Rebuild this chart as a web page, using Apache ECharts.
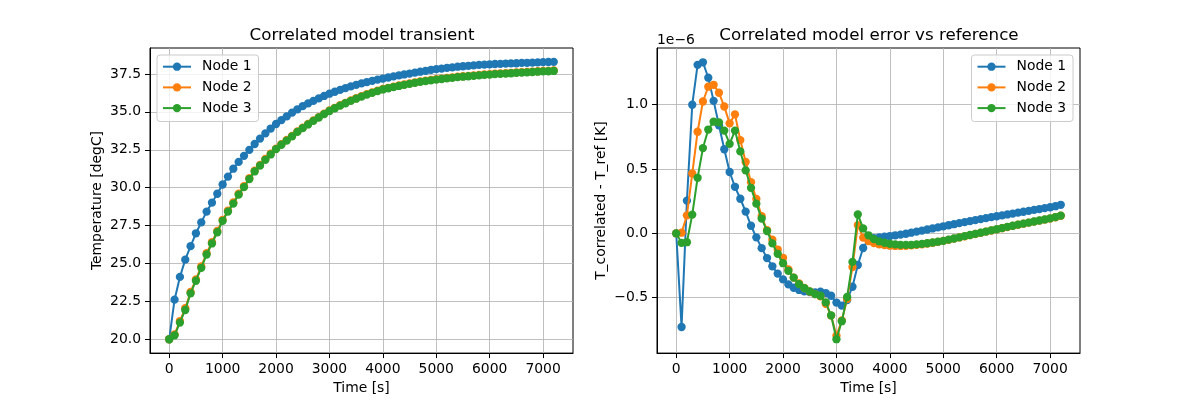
<!DOCTYPE html>
<html><head><meta charset="utf-8">
<script src="https://cdn.jsdelivr.net/npm/echarts@6/dist/echarts.min.js"></script>
<style>html,body{margin:0;padding:0;background:#fff}#chart{width:1200px;height:400px}</style>
</head><body><div id="chart"></div>
<script>
// sample times [s]
const times = [0,100,200,300,400,500,600,700,800,900,1000,1100,1200,1300,1400,1500,1600,1700,1800,1900,2000,2100,2200,2300,2400,2500,2600,2700,2800,2900,3000,3100,3200,3300,3400,3500,3600,3700,3800,3900,4000,4100,4200,4300,4400,4500,4600,4700,4800,4900,5000,5100,5200,5300,5400,5500,5600,5700,5800,5900,6000,6100,6200,6300,6400,6500,6600,6700,6800,6900,7000,7100,7200];
const seriesNames = ['Node 1','Node 2','Node 3'];
// temperatures [degC]
const tempNode1 = [20.00,22.61,24.11,25.25,26.14,26.99,27.71,28.42,29.01,29.60,30.21,30.73,31.25,31.70,32.10,32.49,32.88,33.24,33.58,33.90,34.20,34.46,34.70,34.95,35.17,35.38,35.56,35.73,35.89,36.05,36.20,36.33,36.45,36.57,36.68,36.78,36.88,36.97,37.05,37.13,37.20,37.27,37.34,37.41,37.47,37.53,37.59,37.65,37.71,37.77,37.82,37.86,37.90,37.94,37.98,38.01,38.04,38.07,38.10,38.12,38.14,38.16,38.17,38.19,38.20,38.21,38.23,38.24,38.25,38.27,38.28,38.29,38.30];
const tempNode2 = [20.00,20.32,21.20,22.05,23.12,23.95,24.80,25.68,26.40,27.14,27.88,28.49,29.02,29.60,30.10,30.62,31.12,31.50,31.89,32.24,32.58,32.87,33.15,33.42,33.71,33.96,34.20,34.44,34.66,34.88,35.09,35.27,35.44,35.60,35.76,35.90,36.04,36.17,36.29,36.40,36.51,36.59,36.67,36.74,36.81,36.88,36.95,37.01,37.06,37.11,37.16,37.20,37.24,37.28,37.32,37.35,37.38,37.41,37.44,37.47,37.49,37.52,37.54,37.56,37.58,37.60,37.62,37.64,37.66,37.68,37.70,37.71,37.73];
const tempNode3 = [20.00,20.26,21.10,21.93,23.03,23.86,24.71,25.59,26.32,27.06,27.81,28.42,28.95,29.54,30.04,30.57,31.07,31.45,31.84,32.19,32.54,32.83,33.11,33.38,33.68,33.93,34.17,34.41,34.63,34.85,35.06,35.24,35.41,35.57,35.73,35.87,36.01,36.14,36.26,36.37,36.48,36.56,36.64,36.71,36.78,36.85,36.92,36.98,37.03,37.08,37.13,37.17,37.21,37.25,37.29,37.32,37.35,37.38,37.41,37.44,37.46,37.49,37.51,37.53,37.55,37.57,37.59,37.61,37.63,37.65,37.67,37.68,37.70];
// error vs reference, in units of 1e-6 K
const errNode1 = [0.000,-0.728,0.254,1.000,1.310,1.330,1.210,1.030,0.840,0.654,0.477,0.362,0.269,0.169,0.059,-0.031,-0.115,-0.192,-0.256,-0.313,-0.358,-0.397,-0.423,-0.440,-0.450,-0.457,-0.460,-0.454,-0.464,-0.485,-0.538,-0.562,-0.518,-0.415,-0.246,-0.114,-0.045,-0.037,-0.031,-0.026,-0.021,-0.015,-0.010,-0.003,0.005,0.013,0.021,0.030,0.038,0.046,0.055,0.063,0.071,0.079,0.087,0.095,0.103,0.111,0.118,0.126,0.133,0.140,0.147,0.154,0.161,0.168,0.175,0.182,0.189,0.196,0.203,0.211,0.222];
const errNode2 = [0.000,0.005,0.140,0.465,0.790,1.025,1.140,1.155,1.093,0.986,0.855,0.925,0.725,0.555,0.398,0.268,0.134,0.024,-0.049,-0.126,-0.190,-0.280,-0.344,-0.390,-0.425,-0.452,-0.473,-0.490,-0.548,-0.640,-0.795,-0.677,-0.510,-0.262,0.064,-0.033,-0.060,-0.075,-0.085,-0.092,-0.096,-0.098,-0.098,-0.097,-0.094,-0.090,-0.085,-0.079,-0.073,-0.066,-0.059,-0.050,-0.041,-0.032,-0.023,-0.014,-0.005,0.004,0.013,0.022,0.031,0.040,0.049,0.058,0.067,0.075,0.083,0.091,0.099,0.107,0.115,0.125,0.137];
const errNode3 = [0.000,-0.074,-0.069,0.146,0.432,0.663,0.807,0.868,0.863,0.799,0.696,0.799,0.637,0.490,0.354,0.231,0.115,0.018,-0.078,-0.159,-0.232,-0.292,-0.344,-0.395,-0.426,-0.451,-0.472,-0.485,-0.536,-0.637,-0.823,-0.683,-0.495,-0.222,0.148,0.038,-0.015,-0.045,-0.062,-0.073,-0.081,-0.086,-0.089,-0.090,-0.089,-0.086,-0.082,-0.077,-0.071,-0.065,-0.058,-0.049,-0.040,-0.031,-0.022,-0.013,-0.004,0.005,0.014,0.023,0.032,0.041,0.050,0.059,0.068,0.076,0.084,0.092,0.100,0.108,0.116,0.126,0.138];
// tick values
const xTicks = [0,1000,2000,3000,4000,5000,6000,7000];
const tempTicks = [20.0,22.5,25.0,27.5,30.0,32.5,35.0,37.5];
const errTicks = [-0.5,0.0,0.5,1.0];

const FONT = 'DejaVu Sans';
const colors = ['#1f77b4','#ff7f0e','#2ca02c'];
const chart = echarts.init(document.getElementById('chart'), null, {renderer:'canvas'});
function pairs(vals){ return times.map((t,i)=>[t, vals[i]]); }
const txt = {fontFamily:FONT, fontSize:13.9, color:'#000'};

function xAxisCfg(gi){
  return {type:'value', gridIndex:gi, min:-360, max:7560,
    name:'Time [s]', nameLocation:'middle', nameGap:26, nameTextStyle:txt,
    axisLine:{show:true, onZero:false, lineStyle:{color:'#000', width:1}},
    axisTick:{show:true, length:5, lineStyle:{color:'#000', width:1}, customValues:xTicks},
    axisLabel:Object.assign({customValues:xTicks, margin:9, formatter:v=>String(v)}, txt),
    splitLine:{show:true, lineStyle:{color:'#b0b0b0', width:0.8}}};
}
function yAxisCfg(gi, min, max, ticks, name, gap, fmt){
  return {type:'value', gridIndex:gi, min:min, max:max,
    name:name, nameLocation:'middle', nameRotate:90, nameGap:gap, nameTextStyle:txt,
    axisLine:{show:true, onZero:false, lineStyle:{color:'#000', width:1}},
    axisTick:{show:true, length:5, lineStyle:{color:'#000', width:1}, customValues:ticks},
    axisLabel:Object.assign({customValues:ticks, margin:9, formatter:fmt, padding:[4,0,0,0]}, txt),
    splitLine:{show:true, lineStyle:{color:'#b0b0b0', width:0.8}}};
}
function legendCfg(pos){
  return Object.assign({orient:'vertical', data:seriesNames, selectedMode:false,
    itemWidth:28, itemHeight:10.4, itemGap:6.7, padding:[4.7,7,6.4,5],
    backgroundColor:'rgba(255,255,255,0.8)', borderColor:'#cccccc', borderWidth:1, borderRadius:3,
    textStyle:Object.assign({lineHeight:14, padding:[0,0,0,6]}, txt)}, pos);
}
function lineSeries(name, idx, gi, vals){
  return {type:'line', name:name, xAxisIndex:gi, yAxisIndex:gi, data:pairs(vals),
    symbol:'circle', symbolSize:8.3, showAllSymbol:true, color:colors[idx],
    lineStyle:{width:2, color:colors[idx]}, itemStyle:{color:colors[idx]},
    emphasis:{disabled:true}, animation:false, z:2+idx};
}
const errFmt = v => (v < 0 ? '\u2212' : '') + Math.abs(v).toFixed(1);

chart.setOption({
  animation:false,
  backgroundColor:'#fff',
  title:[
    {text:'Correlated model transient', left:357, top:22, textAlign:'center',
     textStyle:{fontFamily:FONT, fontSize:16.7, fontWeight:'normal', color:'#000'}},
    {text:'Correlated model error vs reference', left:864, top:22, textAlign:'center',
     textStyle:{fontFamily:FONT, fontSize:16.7, fontWeight:'normal', color:'#000'}}
  ],
  graphic:[{type:'text', left:657, top:33, style:{text:'1e\u22126', font:'13.9px "DejaVu Sans"', fill:'#000'}}],
  legend:[legendCfg({left:157, top:55}), legendCfg({right:127, top:55})],
  grid:[
    {left:150, top:48, width:423, height:308, show:true, borderColor:'#000', borderWidth:1, backgroundColor:'transparent'},
    {left:657, top:48, width:423, height:308, show:true, borderColor:'#000', borderWidth:1, backgroundColor:'transparent'}
  ],
  xAxis:[xAxisCfg(0), xAxisCfg(1)],
  yAxis:[
    yAxisCfg(0, 19.085, 39.215, tempTicks, 'Temperature [degC]', 46, v=>v.toFixed(1)),
    yAxisCfg(1, -0.931, 1.441, errTicks, 'T_correlated - T_ref [K]', 49, errFmt)
  ],
  series:[
    lineSeries('Node 1',0,0,tempNode1), lineSeries('Node 2',1,0,tempNode2), lineSeries('Node 3',2,0,tempNode3),
    lineSeries('Node 1',0,1,errNode1), lineSeries('Node 2',1,1,errNode2), lineSeries('Node 3',2,1,errNode3)
  ]
});
</script></body></html>
